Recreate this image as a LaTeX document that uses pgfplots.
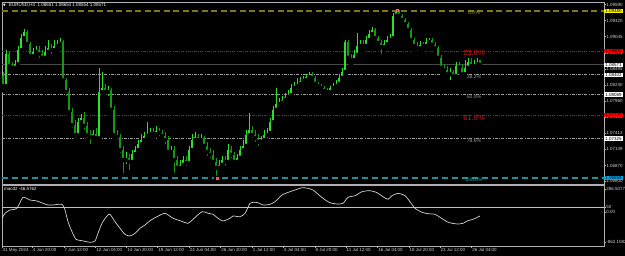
\documentclass[border=0pt]{standalone}
\usepackage{pgfplots}
\pgfplotsset{compat=1.18}
\usepackage{pgfplotstable}
\usepackage{fontspec}
\setmainfont{Liberation Sans}
\newfontfamily\dejavu{DejaVu Sans}
\definecolor{bull}{HTML}{2EE02E}
\definecolor{bear}{HTML}{139A13}
\definecolor{fibolive}{HTML}{7A7A12}
\definecolor{fiboltxt}{HTML}{9A9A30}
\definecolor{fibred}{HTML}{A01212}
\definecolor{fibredtxt}{HTML}{C81818}
\definecolor{fibgray}{HTML}{9A9A9A}
\definecolor{fibcyan}{HTML}{1A9494}
\definecolor{fibcyantxt}{HTML}{22B4B4}
\definecolor{axgray}{HTML}{B0B0B0}
\definecolor{txt}{HTML}{D2D2D2}
\definecolor{pline}{HTML}{4A4A4A}
\newcommand\tk{\fontsize{4.5}{5}\selectfont}
\newcommand\fs{\fontsize{5}{6}\selectfont}
\newcommand\fb{\fontsize{7.6}{9}\selectfont}

\pgfplotstableread{
x o h l c
3 1.0838 1.0845 1.0814 1.0821
6 1.0821 1.0882 1.0818 1.0875
9 1.0875 1.0879 1.0848 1.0855
12 1.0855 1.0862 1.0845 1.0852
15 1.0852 1.0865 1.0848 1.0858
18 1.0858 1.0889 1.0855 1.0882
21 1.0882 1.0909 1.0879 1.0902
24 1.0902 1.0918 1.0899 1.0912
27 1.0912 1.0916 1.0885 1.0892
30 1.0892 1.0896 1.0865 1.0872
33 1.0872 1.0885 1.0865 1.0879
36 1.0879 1.0889 1.0872 1.0882
39 1.0882 1.0889 1.0865 1.0875
42 1.0875 1.0882 1.0862 1.0869
45 1.0869 1.0889 1.0865 1.0879
48 1.0879 1.0899 1.0875 1.0885
51 1.0885 1.0892 1.0872 1.0882
54 1.0882 1.0899 1.0879 1.0889
57 1.0889 1.0899 1.0882 1.0892
60 1.0892 1.0902 1.0885 1.0896
63 1.0896 1.0899 1.0825 1.0831
66 1.0831 1.0835 1.0801 1.0811
69 1.0811 1.0818 1.0771 1.0777
72 1.0777 1.0784 1.0747 1.0755
75 1.0755 1.0764 1.0730 1.0738
78 1.0738 1.0767 1.0733 1.0760
81 1.0760 1.0774 1.0754 1.0767
84 1.0767 1.0777 1.0744 1.0754
87 1.0754 1.0760 1.0730 1.0738
90 1.0738 1.0747 1.0720 1.0735
93 1.0735 1.0747 1.0730 1.0740
96 1.0740 1.0750 1.0727 1.0733
99 1.0733 1.0852 1.0730 1.0811
102 1.0811 1.0845 1.0804 1.0818
105 1.0818 1.0825 1.0804 1.0811
108 1.0811 1.0821 1.0801 1.0814
111 1.0814 1.0818 1.0774 1.0781
114 1.0781 1.0787 1.0733 1.0738
117 1.0738 1.0747 1.0727 1.0735
120 1.0735 1.0740 1.0705 1.0713
123 1.0713 1.0720 1.0671 1.0696
126 1.0696 1.0710 1.0686 1.0700
129 1.0700 1.0706 1.0676 1.0693
132 1.0693 1.0713 1.0686 1.0706
135 1.0706 1.0720 1.0700 1.0713
138 1.0713 1.0730 1.0706 1.0723
141 1.0723 1.0740 1.0720 1.0730
144 1.0730 1.0744 1.0723 1.0737
147 1.0737 1.0760 1.0730 1.0740
150 1.0740 1.0750 1.0733 1.0744
153 1.0744 1.0750 1.0733 1.0740
156 1.0740 1.0754 1.0737 1.0745
159 1.0745 1.0750 1.0733 1.0742
162 1.0742 1.0747 1.0730 1.0737
165 1.0737 1.0744 1.0720 1.0730
168 1.0730 1.0737 1.0703 1.0710
171 1.0710 1.0720 1.0703 1.0713
174 1.0713 1.0720 1.0671 1.0696
177 1.0696 1.0703 1.0676 1.0683
180 1.0683 1.0696 1.0679 1.0688
183 1.0688 1.0703 1.0683 1.0696
186 1.0696 1.0703 1.0683 1.0691
189 1.0691 1.0720 1.0686 1.0713
192 1.0713 1.0740 1.0710 1.0730
195 1.0730 1.0744 1.0727 1.0735
198 1.0735 1.0740 1.0723 1.0730
201 1.0730 1.0740 1.0723 1.0733
204 1.0733 1.0737 1.0713 1.0720
207 1.0720 1.0727 1.0700 1.0710
210 1.0710 1.0717 1.0696 1.0705
213 1.0705 1.0713 1.0686 1.0693
216 1.0693 1.0700 1.0666 1.0683
219 1.0683 1.0696 1.0676 1.0688
222 1.0688 1.0703 1.0686 1.0696
225 1.0696 1.0703 1.0683 1.0693
228 1.0693 1.0723 1.0689 1.0713
231 1.0713 1.0720 1.0696 1.0705
234 1.0705 1.0710 1.0686 1.0693
237 1.0693 1.0706 1.0689 1.0700
240 1.0700 1.0720 1.0696 1.0713
243 1.0713 1.0730 1.0710 1.0720
246 1.0720 1.0747 1.0717 1.0738
249 1.0738 1.0776 1.0733 1.0747
252 1.0747 1.0754 1.0730 1.0738
255 1.0738 1.0747 1.0723 1.0733
258 1.0733 1.0740 1.0717 1.0727
261 1.0727 1.0737 1.0720 1.0730
264 1.0730 1.0747 1.0727 1.0738
267 1.0738 1.0750 1.0730 1.0742
270 1.0742 1.0767 1.0737 1.0760
273 1.0760 1.0787 1.0757 1.0781
276 1.0781 1.0818 1.0777 1.0791
279 1.0791 1.0801 1.0784 1.0793
282 1.0793 1.0804 1.0787 1.0798
285 1.0798 1.0809 1.0794 1.0803
288 1.0803 1.0814 1.0798 1.0806
291 1.0806 1.0825 1.0803 1.0818
294 1.0818 1.0828 1.0814 1.0821
297 1.0821 1.0835 1.0818 1.0825
300 1.0825 1.0836 1.0821 1.0830
303 1.0830 1.0838 1.0825 1.0831
306 1.0831 1.0841 1.0828 1.0836
309 1.0836 1.0845 1.0831 1.0840
312 1.0840 1.0845 1.0828 1.0835
315 1.0835 1.0838 1.0818 1.0825
318 1.0825 1.0828 1.0814 1.0821
321 1.0821 1.0825 1.0811 1.0818
324 1.0818 1.0821 1.0808 1.0813
327 1.0813 1.0818 1.0806 1.0811
330 1.0811 1.0821 1.0808 1.0818
333 1.0818 1.0826 1.0814 1.0821
336 1.0821 1.0831 1.0818 1.0825
339 1.0825 1.0841 1.0821 1.0835
342 1.0835 1.0852 1.0831 1.0845
345 1.0845 1.0899 1.0841 1.0896
348 1.0896 1.0899 1.0862 1.0869
351 1.0869 1.0875 1.0858 1.0865
354 1.0865 1.0882 1.0862 1.0874
357 1.0874 1.0911 1.0869 1.0889
360 1.0889 1.0899 1.0882 1.0892
363 1.0892 1.0899 1.0882 1.0889
366 1.0889 1.0906 1.0885 1.0899
369 1.0899 1.0916 1.0896 1.0909
372 1.0909 1.0921 1.0906 1.0916
375 1.0916 1.0919 1.0896 1.0902
378 1.0902 1.0906 1.0889 1.0894
381 1.0894 1.0899 1.0872 1.0887
384 1.0887 1.0899 1.0882 1.0892
387 1.0892 1.0906 1.0889 1.0899
390 1.0899 1.0909 1.0896 1.0902
393 1.0902 1.0945 1.0899 1.0940
396 1.0940 1.0951 1.0936 1.0946
399 1.0946 1.0950 1.0933 1.0940
402 1.0940 1.0943 1.0926 1.0933
405 1.0933 1.0936 1.0919 1.0926
408 1.0926 1.0929 1.0909 1.0916
411 1.0916 1.0919 1.0892 1.0899
414 1.0899 1.0902 1.0882 1.0889
417 1.0889 1.0896 1.0877 1.0885
420 1.0885 1.0897 1.0882 1.0891
423 1.0891 1.0896 1.0882 1.0889
426 1.0889 1.0902 1.0885 1.0896
429 1.0896 1.0902 1.0889 1.0899
432 1.0899 1.0902 1.0885 1.0891
435 1.0891 1.0896 1.0879 1.0885
438 1.0885 1.0889 1.0862 1.0869
441 1.0869 1.0874 1.0848 1.0852
444 1.0852 1.0858 1.0841 1.0848
447 1.0848 1.0855 1.0835 1.0841
450 1.0841 1.0852 1.0828 1.0845
453 1.0845 1.0848 1.0831 1.0838
456 1.0838 1.0862 1.0835 1.0855
459 1.0855 1.0862 1.0845 1.0852
462 1.0852 1.0858 1.0835 1.0841
465 1.0841 1.0865 1.0838 1.0852
468 1.0852 1.0869 1.0848 1.0862
471 1.0862 1.0869 1.0848 1.0855
474 1.0855 1.0865 1.0852 1.0858
477 1.0858 1.0869 1.0855 1.0862
480 1.08651 1.08654 1.08554 1.08571
}\candles

\pgfplotstableread{
x v
2 -95
5 -28
10 15
15 24
18 58
23 180
30 145
37 132
43 102
48 80
53 80
62 89
65 15
68 -137
72 -267
76 -366
82 -384
90 -405
95 -388
98 -288
102 -158
107 -63
110 -41
115 -137
120 -223
125 -301
130 -323
135 -288
140 -223
145 -180
150 -124
157 -72
165 -28
173 -93
180 -124
188 -158
193 -106
202 -7
208 -28
213 -41
218 -93
223 -128
230 -93
233 -63
240 -72
245 -28
250 102
253 115
258 110
263 80
270 89
275 123
282 210
290 253
297 284
302 305
308 297
313 275
317 232
323 167
330 110
337 93
343 102
348 180
355 201
362 253
370 266
377 240
383 188
388 154
392 201
398 232
405 201
410 123
415 37
422 -15
428 -33
435 -41
440 -80
447 -137
452 -158
458 -167
463 -158
468 -124
473 -106
480 -63
}\osc

\begin{document}
\begin{tikzpicture}
\useasboundingbox (0,0) rectangle (625bp,256bp);
\fill[black] (0,0) rectangle (625bp,256bp);

% ---------------- price panel ----------------
\begin{axis}[
  at={(2bp,72bp)}, anchor=south west,
  width=602bp, height=182bp, scale only axis,
  xmin=2, xmax=604, ymin=1.06557, ymax=1.09632,
  clip mode=individual,
  axis line style={draw=axgray, line width=0.8bp},
  xtick=\empty,
  ytick={1.09590,1.09320,1.09045,1.08771,1.08495,1.08230,1.07960,1.07685,1.07413,1.07149,1.06870,1.06600},
  yticklabels={1.09590,1.09320,1.09045,1.08771,1.08495,1.08230,1.07960,1.07685,1.07413,1.07149,1.06870,1.06600},
  ytick pos=right, yticklabel pos=right,
  tick align=outside, major tick length=1.6bp,
  tick style={draw=axgray, line width=0.5bp},
  yticklabel style={font=\tk, text=txt, inner sep=0.5bp, anchor=west},
  scaled y ticks=false,
]
% Fibonacci levels
\addplot[fibolive, line width=1.2bp, dash pattern=on 6bp off 3.5bp] coordinates {(2,1.09480) (604,1.09480)};
\addplot[fibred, line width=0.7bp, dash pattern=on 3bp off 1.3bp on 0.8bp off 1.3bp] coordinates {(2,1.08804) (604,1.08804)};
\addplot[fibgray, line width=0.7bp, dash pattern=on 3bp off 1.3bp on 0.8bp off 1.3bp] coordinates {(2,1.08402) (604,1.08402)};
\addplot[fibgray, line width=0.7bp, dash pattern=on 3bp off 1.3bp on 0.8bp off 1.3bp] coordinates {(2,1.08069) (604,1.08069)};
\addplot[fibred, line width=0.7bp, dash pattern=on 3bp off 1.3bp on 0.8bp off 1.3bp] coordinates {(2,1.07720) (604,1.07720)};
\addplot[fibgray, line width=0.7bp, dash pattern=on 3bp off 1.3bp on 0.8bp off 1.3bp] coordinates {(2,1.07325) (604,1.07325)};
\addplot[fibcyan, line width=1.1bp, dash pattern=on 6bp off 4bp] coordinates {(2,1.06659) (604,1.06659)};
% current price line
\addplot[pline, line width=1.3bp] coordinates {(2,1.08571) (604,1.08571)};

% candles: wicks
\addplot[only marks, mark=none,
  restrict expr to domain={\thisrow{c}-\thisrow{o}}{0:1},
  error bars/.cd, y dir=plus, y explicit, error mark=none,
  error bar style={draw=bull, line width=0.7bp}]
  table[x=x, y=l, y error plus expr=\thisrow{h}-\thisrow{l}] {\candles};
\addplot[only marks, mark=none,
  restrict expr to domain={\thisrow{c}-\thisrow{o}}{-1:-0.00001},
  error bars/.cd, y dir=plus, y explicit, error mark=none,
  error bar style={draw=bear, line width=0.7bp}]
  table[x=x, y=l, y error plus expr=\thisrow{h}-\thisrow{l}] {\candles};
% candles: bodies
\addplot[only marks, mark=none,
  restrict expr to domain={\thisrow{c}-\thisrow{o}}{0:1},
  error bars/.cd, y dir=plus, y explicit, error mark=none,
  error bar style={draw=bull, line width=2.1bp}]
  table[x=x, y=o, y error plus expr=\thisrow{c}-\thisrow{o}] {\candles};
\addplot[only marks, mark=none,
  restrict expr to domain={\thisrow{c}-\thisrow{o}}{-1:-0.00001},
  error bars/.cd, y dir=plus, y explicit, error mark=none,
  error bar style={draw=bear, line width=2.1bp}]
  table[x=x, y=c, y error plus expr=\thisrow{o}-\thisrow{c}] {\candles};

% fib anchor points
\addplot[only marks, mark=square*, mark size=0.9bp, color=red, mark options={draw=red!60!white, line width=0.2bp}] coordinates {(217,1.06660) (397,1.09500)};

% fib level texts
\node[anchor=north, font=\fs, text=fiboltxt, inner sep=0.3bp] at (axis cs:474,1.09480) {0.0\%};
\node[anchor=north, font=\fb, text=fibredtxt, inner sep=0.3bp] at (axis cs:474,1.08820) {23.6\%};
\node[anchor=north, font=\fs, text=fibgray, inner sep=0.3bp] at (axis cs:474,1.08402) {38.2\%};
\node[anchor=north, font=\fs, text=fibgray, inner sep=0.3bp] at (axis cs:474,1.08069) {50.0\%};
\node[anchor=north, font=\fb, text=fibredtxt, inner sep=0.3bp] at (axis cs:474,1.07720) {61.8\%};
\node[anchor=north, font=\fs, text=fibgray, inner sep=0.3bp] at (axis cs:474,1.07325) {78.6\%};
\node[anchor=north, font=\fs, text=fibcyantxt, inner sep=0.3bp] at (axis cs:474,1.06659) {100.0\%};

% price boxes on the scale
\node[anchor=west, fill=yellow, text=black, font=\tk, inner xsep=1.1bp, inner ysep=0.6bp] at (axis cs:604,1.09480) {1.09480};
\node[anchor=west, fill=red, text=black, font=\tk, inner xsep=1.1bp, inner ysep=0.6bp] at (axis cs:604,1.08804) {1.08804};
\node[anchor=west, fill=white, text=black, font=\tk, inner xsep=1.1bp, inner ysep=0.6bp] at (axis cs:604,1.08571) {1.08571};
\node[anchor=west, fill=white, text=black, font=\tk, inner xsep=1.1bp, inner ysep=0.6bp] at (axis cs:604,1.08402) {1.08402};
\node[anchor=west, fill=white, text=black, font=\tk, inner xsep=1.1bp, inner ysep=0.6bp] at (axis cs:604,1.08069) {1.08069};
\node[anchor=west, fill=red, text=black, font=\tk, inner xsep=1.1bp, inner ysep=0.6bp] at (axis cs:604,1.07720) {1.07720};
\node[anchor=west, fill=white, text=black, font=\tk, inner xsep=1.1bp, inner ysep=0.6bp] at (axis cs:604,1.07325) {1.07325};
\node[anchor=west, fill=cyan, text=black, font=\tk, inner xsep=1.1bp, inner ysep=0.6bp] at (axis cs:604,1.06659) {1.06659};
\end{axis}

% ---------------- oscillator panel ----------------
\begin{axis}[
  at={(2bp,10bp)}, anchor=south west,
  width=602bp, height=61bp, scale only axis,
  xmin=2, xmax=604, ymin=-453, ymax=340,
  axis line style={draw=axgray, line width=0.8bp},
  xtick={2,32.3,64,95.7,126.7,157.7,189.3,220.7,252.3,283.3,315,346,377.7,409,440,471.7},
  xticklabels={31 May 2024,4 Jun 20:00,7 Jun 12:00,12 Jun 04:00,14 Jun 20:00,19 Jun 12:00,24 Jun 04:00,26 Jun 20:00,1 Jul 12:00,4 Jul 04:00,8 Jul 20:00,11 Jul 12:00,16 Jul 04:00,18 Jul 20:00,23 Jul 12:00,26 Jul 04:00},
  xtick pos=bottom,
  ytick={288,50,-15,-405},
  yticklabels={286.5077,50,0.00,-862.1082},
  ytick pos=right, yticklabel pos=right,
  tick align=outside, major tick length=1.6bp,
  tick style={draw=axgray, line width=0.5bp},
  xticklabel style={font=\tk, text=txt, anchor=north west, inner sep=0.4bp},
  yticklabel style={font=\tk, text=txt, inner sep=0.5bp, anchor=west},
]
\addplot[axgray!80, line width=0.6bp] coordinates {(2,50) (604,50)};
\addplot[txt, line width=0.7bp, smooth, tension=0.4] table[x=x, y=v] {\osc};
\end{axis}

% header texts
\node[anchor=west, text=white, inner sep=0pt, font=\dejavu\fontsize{3.5}{4}\selectfont] at (3bp,250.8bp) {▼};
\node[anchor=west, text=white, inner sep=0pt, font=\tk] at (9bp,250.8bp) {EURUSD,H4\ \ 1.08651 1.08654 1.08554 1.08571};
\node[anchor=west, text=white, inner sep=0pt, font=\tk] at (4bp,67bp) {macd2 -46.5762};
\end{tikzpicture}
\end{document}
